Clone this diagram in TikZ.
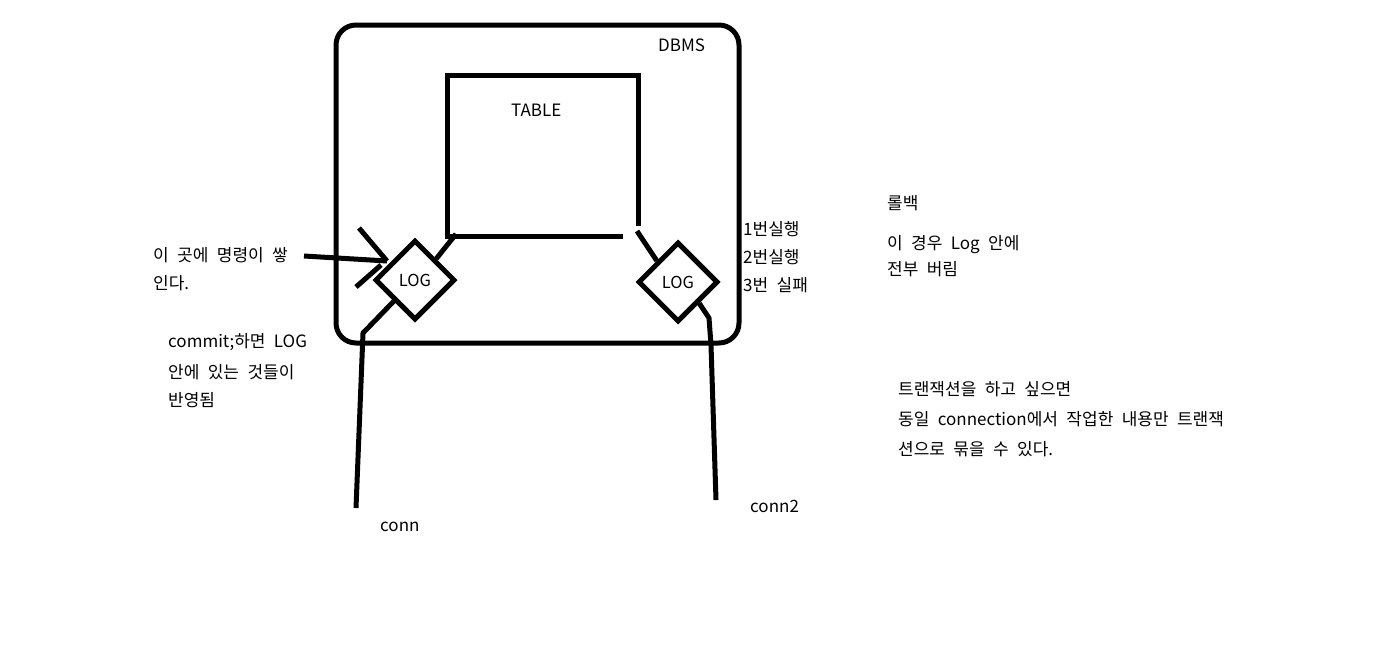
\documentclass[tikz,border=0pt]{standalone}
\usepackage{fontspec}
\setmainfont{Noto Sans CJK KR}[WordSpace=2.2]
\usetikzlibrary{shapes.geometric}
\begin{document}
\begin{tikzpicture}[x=1pt,y=-1pt,
  conn/.style={line width=5pt, line join=round},
  txt/.style={anchor=base west, inner sep=0pt, font=\fontsize{17}{20}\selectfont},
  logbox/.style={diamond, draw, fill=white, line width=5pt, minimum width=80pt, minimum height=80pt, aspect=1, inner sep=0pt, font=\fontsize{16.5}{20}\selectfont}]
\fill[white] (0,0) rectangle (1373,654);
\useasboundingbox (0,0) rectangle (1373,654);
% DBMS box
\node[draw, line width=5pt, rounded corners=20pt, minimum width=403pt, minimum height=318pt, inner sep=0pt] (dbms) at (537.5,184) {};
\node[txt] (dbmslabel) at (658,51) {DBMS};
% table
\coordinate (tbr) at (638,226);
\coordinate (ttr) at (638,75);
\coordinate (ttl) at (447,75);
\coordinate (tbl) at (447,236);
\coordinate (tbe) at (623,236);
\draw[line width=5pt] (tbr) -- (ttr) -- (ttl) -- (tbl) -- (tbe);
\node[txt] (tablelabel) at (511,116) {TABLE};
% logs
\node[logbox] (logL) at (415,280) {LOG};
\node[logbox] (logR) at (678,282) {LOG};
% connectors left
\coordinate (tblJ) at (456,234);
\draw[conn] (logL.north east) -- (tblJ);
\coordinate (cmdstart) at (304,256);
\coordinate (cmdtip) at (387,261);
\coordinate (armU) at (359,228);
\coordinate (armD) at (356,287);
\coordinate (armDend) at (381,265);
\draw[conn] (cmdstart) -- (cmdtip);
\draw[conn] (armU) -- (cmdtip);
\draw[conn] (armD) -- (armDend);
\coordinate (bendL) at (363,333);
\coordinate (connLend) at (356,508);
\draw[conn] (logL.south west) -- (bendL) -- (connLend);
% connectors right
\coordinate (tbrJ) at (637,231);
\draw[conn] (tbrJ) -- (logR.north west);
\coordinate (bendR1) at (709,318);
\coordinate (bendR2) at (711,345);
\coordinate (connRend) at (716,500);
\draw[conn] (logR.south east) -- (bendR1) -- (bendR2) -- (connRend);
% texts
\node[txt] (cmd1) at (153,261) {이 곳에 명령이 쌓};
\node[txt] (cmd2) at (153,289) {인다.};
\node[txt] (cm1) at (168,347) {commit;하면 LOG};
\node[txt] (cm2) at (168,378) {안에 있는 것들이};
\node[txt] (cm3) at (168,406) {반영됨};
\node[txt] (ex1) at (743,235) {1번실행};
\node[txt] (ex2) at (743,263) {2번실행};
\node[txt] (ex3) at (743,291) {3번 실패};
\node[txt] (rb1) at (887,209) {롤백};
\node[txt] (rb2) at (887,249) {이 경우 Log 안에};
\node[txt] (rb3) at (887,275.5) {전부 버림};
\node[txt] (tr1) at (898,395.5) {트랜잭션을 하고 싶으면};
\node[txt] (tr2) at (898,425.5) {동일 connection에서 작업한 내용만 트랜잭};
\node[txt] (tr3) at (898,455.5) {션으로 묶을 수 있다.};
\node[txt] (connL) at (380,531) {conn};
\node[txt] (connR) at (750,512) {conn2};
\end{tikzpicture}
\end{document}
